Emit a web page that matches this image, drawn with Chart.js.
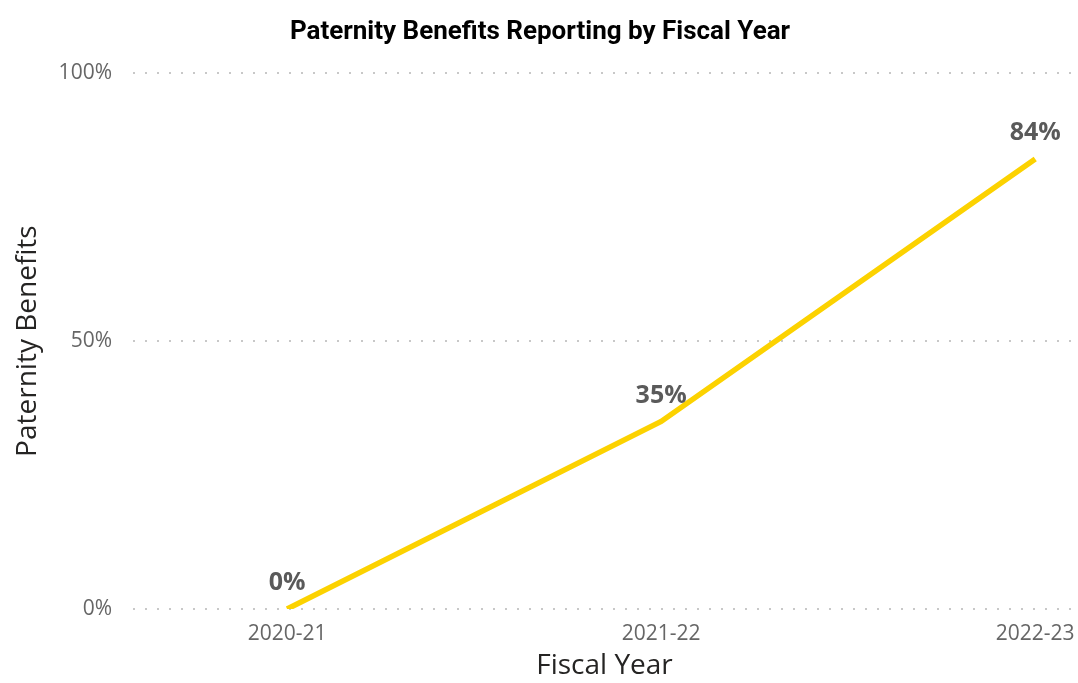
<!DOCTYPE html>
<html>
<head>
<meta charset="utf-8">
<script src="https://cdn.jsdelivr.net/npm/chart.js@4.4.1/dist/chart.umd.min.js"></script>
<style>
  body { margin: 0; background: #fff; }
  canvas { display: block; }
</style>
</head>
<body>
<canvas id="chart" width="1078" height="683"></canvas>
<script>
const years = ["2020-21", "2021-22", "2022-23"];
const paternityPct = [0, 35, 84];
const yTicks = [0, 50, 100];

const ctx = document.getElementById("chart");

// data labels above each point, bold gray like the original report
const pointLabels = {
  id: "pointLabels",
  afterDatasetsDraw(chart) {
    const c = chart.ctx;
    const meta = chart.getDatasetMeta(0);
    c.save();
    c.font = "bold 25px 'Open Sans'";
    c.fillStyle = "#5a5a5a";
    c.textAlign = "center";
    c.textBaseline = "middle";
    meta.data.forEach((pt, i) => {
      c.fillText(paternityPct[i] + "%", pt.x, pt.y - 26);
    });
    c.restore();
  },
};

let myChart = new Chart(ctx, {
  type: "line",
  data: {
    datasets: [
      {
        label: "Paternity Benefits",
        data: paternityPct.map((v, i) => ({ x: i, y: v })),
        borderColor: "#FCD200",
        borderWidth: 5.5,
        pointRadius: 0,
        tension: 0,
      },
    ],
  },
  options: {
    responsive: false,
    animation: false,
    layout: { padding: { left: 4, right: 2, top: 0, bottom: 0 } },
    scales: {
      x: {
        type: "linear",
        min: -0.412,
        max: 2.109,
        afterBuildTicks: (scale) => {
          scale.ticks = years.map((y, i) => ({ value: i }));
        },
        afterFit: (scale) => {
          // keep the plot running to the right edge; label overhang is fine
          scale.height = 74;
          scale.paddingLeft = 0;
          scale.paddingRight = 0;
        },
        grid: { display: false, drawTicks: false },
        border: { display: false },
        ticks: {
          callback: (v) => years[v],
          font: { family: "Open Sans", size: 21 },
          color: "#666666",
          padding: 12,
          maxRotation: 0,
        },
        title: {
          display: true,
          text: "Fiscal Year",
          font: { family: "Open Sans", size: 28 },
          color: "#252423",
          padding: { top: 5, bottom: 0 },
        },
      },
      y: {
        min: 0,
        max: 100,
        afterBuildTicks: (scale) => {
          scale.ticks = yTicks.map((v) => ({ value: v }));
        },
        afterFit: (scale) => {
          scale.width = 129;
          scale.paddingTop = 0;
          scale.paddingBottom = 0;
        },
        grid: {
          color: "#c8c8c8",
          lineWidth: 2,
          drawTicks: false,
        },
        border: { display: false, dash: [2, 10] },
        ticks: {
          callback: (v) => v + "%",
          font: { family: "Open Sans", size: 21 },
          color: "#666666",
          padding: 21,
        },
        title: {
          display: true,
          text: "Paternity Benefits",
          font: { family: "Open Sans", size: 28 },
          color: "#252423",
          padding: { top: 7, bottom: 0 },
        },
      },
    },
    plugins: {
      legend: { display: false },
      tooltip: { enabled: false },
      title: {
        display: true,
        text: "Paternity Benefits Reporting by Fiscal Year",
        font: { family: "Roboto", size: 26, weight: "bold" },
        color: "#000000",
        padding: { top: 17, bottom: 25 },
      },
    },
  },
  plugins: [pointLabels],
});
</script>
</body>
</html>
